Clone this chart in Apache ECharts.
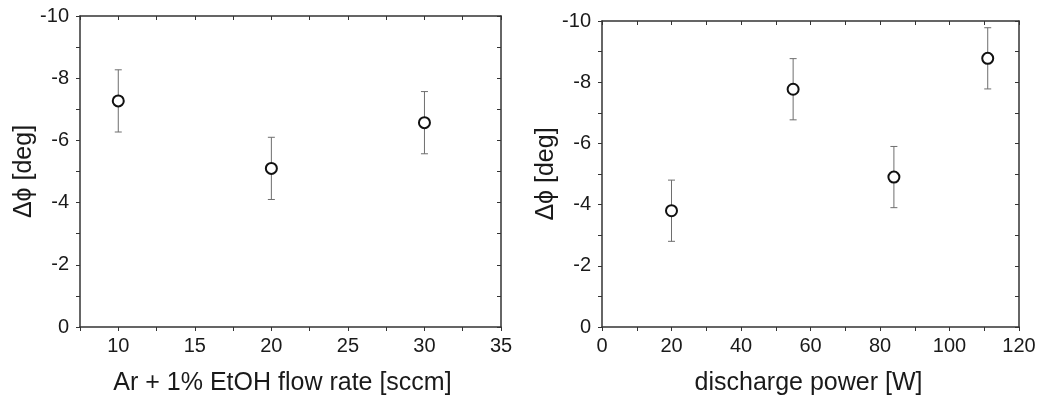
<!DOCTYPE html>
<html>
<head>
<meta charset="utf-8">
<script src="https://cdn.jsdelivr.net/npm/echarts@6/dist/echarts.min.js"></script>
<style>
html,body{margin:0;padding:0;background:#fff;}
#chart{width:1040px;height:403px;}
</style>
</head>
<body>
<div id="chart"></div>
<script>
// ---- data ----
const flowRate = [10, 20, 30];
const flowPhase = [-7.27, -5.10, -6.57];
const flowErr = [1.0, 1.0, 1.0];

const power = [20, 55, 84, 111];
const powerPhase = [-3.80, -7.77, -4.90, -8.78];
const powerErr = [1.0, 1.0, 1.0, 1.0];

const yTitle = 'Δϕ [deg]';
const xTitleLeft = 'Ar + 1% EtOH flow rate [sccm]';
const xTitleRight = 'discharge power [W]';

// ---- chart ----
const FONT = '"Liberation Sans", Arial, sans-serif';
const AXIS_COLOR = '#333';
const TEXT_COLOR = '#1a1a1a';

function errData(xs, ys, es) {
  return xs.map((x, i) => [x, ys[i], es[i]]);
}
function ptData(xs, ys) {
  return xs.map((x, i) => [x, ys[i]]);
}

function renderErr(params, api) {
  const x = api.value(0), y = api.value(1), e = api.value(2);
  const p1 = api.coord([x, y - e]);
  const p2 = api.coord([x, y + e]);
  const cap = 3.5;
  const style = { stroke: '#6e6e6e', lineWidth: 1 };
  return {
    type: 'group',
    children: [
      { type: 'line', shape: { x1: p1[0], y1: p1[1], x2: p2[0], y2: p2[1] }, style },
      { type: 'line', shape: { x1: p1[0] - cap, y1: p1[1], x2: p1[0] + cap, y2: p1[1] }, style },
      { type: 'line', shape: { x1: p2[0] - cap, y1: p2[1], x2: p2[0] + cap, y2: p2[1] }, style }
    ]
  };
}

function mainX(gridIndex, min, max, interval, labelStep, name, nameGap, namePad) {
  return {
    type: 'value', gridIndex, position: 'bottom', min, max, interval,
    name, nameLocation: 'middle', nameGap,
    nameTextStyle: { fontFamily: FONT, fontSize: 25, color: TEXT_COLOR, padding: namePad },
    axisLine: { show: true, onZero: false, lineStyle: { color: AXIS_COLOR, width: 1.5 } },
    axisTick: { show: true, inside: false, length: 4, lineStyle: { color: AXIS_COLOR, width: 1 } },
    axisLabel: {
      show: true, margin: 9, fontFamily: FONT, fontSize: 20, color: TEXT_COLOR,
      formatter: v => (Math.abs(v / labelStep - Math.round(v / labelStep)) < 1e-6 ? String(v) : '')
    },
    splitLine: { show: false }
  };
}
function mirrorX(gridIndex, min, max, interval) {
  return {
    type: 'value', gridIndex, position: 'top', min, max, interval,
    axisLine: { show: true, onZero: false, lineStyle: { color: AXIS_COLOR, width: 1.5 } },
    axisTick: { show: true, inside: true, length: 4, lineStyle: { color: AXIS_COLOR, width: 1 } },
    axisLabel: { show: false },
    splitLine: { show: false }
  };
}
function mainY(gridIndex, name) {
  return {
    type: 'value', gridIndex, position: 'left', min: -10, max: 0, interval: 1, inverse: true,
    name, nameLocation: 'middle', nameGap: 43, nameRotate: 90,
    nameTextStyle: { fontFamily: FONT, fontSize: 25, color: TEXT_COLOR },
    axisLine: { show: true, onZero: false, lineStyle: { color: AXIS_COLOR, width: 1.5 } },
    axisTick: { show: true, inside: false, length: 4, lineStyle: { color: AXIS_COLOR, width: 1 } },
    axisLabel: {
      show: true, margin: 11, fontFamily: FONT, fontSize: 20, color: TEXT_COLOR,
      formatter: v => (Math.round(v) % 2 === 0 ? String(v) : '')
    },
    splitLine: { show: false }
  };
}
function mirrorY(gridIndex) {
  return {
    type: 'value', gridIndex, position: 'right', min: -10, max: 0, interval: 1, inverse: true,
    axisLine: { show: true, onZero: false, lineStyle: { color: AXIS_COLOR, width: 1.5 } },
    axisTick: { show: true, inside: true, length: 4, lineStyle: { color: AXIS_COLOR, width: 1 } },
    axisLabel: { show: false },
    splitLine: { show: false }
  };
}

const scatterStyle = {
  symbol: 'circle', symbolSize: 11,
  itemStyle: { color: '#fff', borderColor: '#111', borderWidth: 2, opacity: 1 }
};

const option = {
  animation: false,
  backgroundColor: '#fff',
  grid: [
    { left: 80, top: 16, width: 421, height: 311 },
    { left: 602, top: 21, width: 417, height: 306 }
  ],
  xAxis: [
    mainX(0, 7.5, 35, 2.5, 5, xTitleLeft, 44, [0, 16, 0, 0]),
    mirrorX(0, 7.5, 35, 2.5),
    mainX(1, 0, 120, 10, 20, xTitleRight, 44, [0, 4, 0, 0]),
    mirrorX(1, 0, 120, 10)
  ],
  yAxis: [
    mainY(0, yTitle),
    mirrorY(0),
    mainY(1, yTitle),
    mirrorY(1)
  ],
  series: [
    { type: 'custom', xAxisIndex: 0, yAxisIndex: 0, renderItem: renderErr, data: errData(flowRate, flowPhase, flowErr), z: 2 },
    Object.assign({ type: 'scatter', xAxisIndex: 0, yAxisIndex: 0, data: ptData(flowRate, flowPhase), z: 3 }, scatterStyle),
    { type: 'custom', xAxisIndex: 2, yAxisIndex: 2, renderItem: renderErr, data: errData(power, powerPhase, powerErr), z: 2 },
    Object.assign({ type: 'scatter', xAxisIndex: 2, yAxisIndex: 2, data: ptData(power, powerPhase), z: 3 }, scatterStyle)
  ]
};

const chart = echarts.init(document.getElementById('chart'), null, { renderer: 'canvas' });
chart.setOption(option);
</script>
</body>
</html>
